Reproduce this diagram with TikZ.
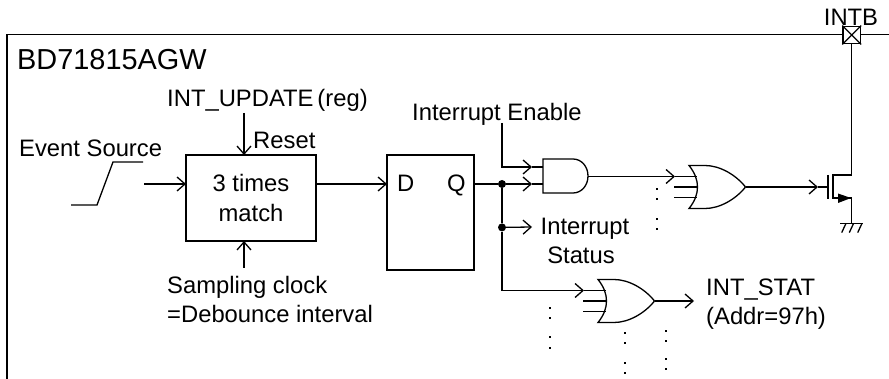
\documentclass[tikz,border=0pt]{standalone}
\usepackage{fontspec}
\setmainfont{Liberation Sans}
\usetikzlibrary{arrows.meta, positioning}
\tikzstyle{block} = [rectangle, draw, line width=1.3pt, outer sep=0pt, align=center, font=\fontsize{23.8}{29.5}\selectfont]
\tikzstyle{lbl} = [inner sep=0pt, align=left, font=\fontsize{23.8}{29.5}\selectfont]
\tikzstyle{wire} = [line width=1.3pt]
\tikzstyle{arrow} = [line width=1.3pt, -{Straight Barb[length=8pt, width=14pt, line width=1.3pt]}]
\tikzstyle{junction} = [circle, fill=black, inner sep=0pt, minimum size=8pt]
\tikzstyle{dotmark} = [rectangle, fill=black, inner sep=0pt, minimum size=2.4pt]
\tikzset{
  andgate/.pic={
    \draw[wire] (0,-17) -- (30,-17) .. controls (38.5,-17) and (45,-9.5) .. (45,0)
      .. controls (45,9.5) and (38.5,17) .. (30,17) -- (0,17) -- cycle;
    \coordinate (-tip1) at (-11,-9);
    \coordinate (-in1) at (0,-9);
    \coordinate (-tip2) at (-11,8);
    \coordinate (-in2) at (0,8);
    \coordinate (-out) at (45,0.5);
  },
  orgate/.pic={
    \draw[wire] (0,-21.5) .. controls (6,-14) and (8.5,-7) .. (8.5,0)
      .. controls (8.5,7) and (6,14) .. (0,21.5) -- (16,21.5)
      .. controls (31,21.5) and (47,12) .. (56.5,0)
      .. controls (47,-12) and (31,-21.5) .. (16,-21.5) -- cycle;
    \draw[wire] (-15,0) -- (8.5,0);
    \draw[wire] (-15,10.5) -- (7.5,10.5);
    \coordinate (-tip) at (-14,-10.5);
    \coordinate (-in) at (7.5,-10.5);
    \coordinate (-out) at (56.5,0);
  }
}

\begin{document}
\begin{tikzpicture}[x=1pt, y=-1pt]
    \useasboundingbox (0,0) rectangle (889,379);
    % chip outline
    \draw[line width=1.5pt] (7,379) |- (889,34.5);
    \node[lbl, anchor=base west, font=\fontsize{28.9}{34}\selectfont] (chip) at (17,70) {BD71815AGW};

    % blocks
    \node[block, minimum width=130pt, minimum height=86pt] (match) at (251,198) {3 times\\match};
    \node[block, minimum width=87pt, minimum height=115pt, right=71pt of match.north east, anchor=north west] (ff) {};
    \node[lbl, anchor=base west] (dpin) at (397,192) {D};
    \node[lbl, anchor=base west] (qpin) at (447,192) {Q};

    % inputs
    \coordinate (evin) at (144,184);
    \coordinate (updin) at (244,113);
    \coordinate (clkin) at (244,268);
    \node[lbl, anchor=base west] (evsrc) at (19,157) {Event Source};
    \node[lbl, anchor=base west] (upd) at (167,107) {INT\_UPDATE\,(reg)};
    \node[lbl, anchor=base west] (rst) at (253,149) {Reset};
    \node[lbl, anchor=base west] (clk) at (167,323) {Sampling clock\\=Debounce interval};
    \draw[wire] (71,205) -- (97,205) -- (113,162) -- (143,162);
    \draw[arrow] (evin) -- (evin -| match.west);
    \draw[arrow] (updin) -- (updin |- match.north);
    \draw[arrow] (clkin) -- (clkin |- match.south);
    \draw[arrow] (match.east |- evin) -- (ff.west |- evin);

    % gates
    \pic (anda) at (543,176) {andgate};
    \pic (orb) at (689,187) {orgate};
    \pic (orc) at (598,301) {orgate};

    % interrupt paths
    \node[junction] (jq) at (502,184) {};
    \node[junction, below=35pt of jq] (jst) {};
    \coordinate (enin) at (502,123);
    \coordinate (stin) at (532,227);
    \coordinate (statout) at (694,301);
    \node[lbl, anchor=base west] (en) at (412,121) {Interrupt Enable};
    \node[lbl, anchor=base, align=center] (st) at (585,264) {Interrupt\\Status\hspace*{8pt}};
    \node[lbl, anchor=base west] (stat) at (706,325) {INT\_STAT\\(Addr=97h)};
    \draw[wire] (ff.east |- jq) -- (jq);
    \draw[arrow] (jq) -- (anda-tip2);
    \draw[wire] (anda-tip2) -- (anda-in2);
    \draw[arrow] (enin) |- (anda-tip1);
    \draw[wire] (anda-tip1) -- (anda-in1);
    \draw[wire] (jq) -- (jst);
    \draw[arrow] (jst) -- (stin);
    \draw[arrow] (jst) |- (orc-tip);
    \draw[wire] (orc-tip) -- (orc-in);
    \draw[arrow] (orc-out) -- (statout);
    \draw[arrow] (anda-out) -- (orb-tip);
    \draw[wire] (orb-tip) -- (orb-in);

    % output stage
    \node[rectangle, draw, fill=white, line width=1.3pt, minimum size=17.5pt, inner sep=0pt] (pad) at (851.7,35) {};
    \draw[wire] (pad.north west) -- (pad.south east);
    \draw[wire] (pad.north east) -- (pad.south west);
    \node[lbl, anchor=base] (intb) at (851,26) {INTB};
    \coordinate (gt) at (828,187);
    \coordinate (gttip) at (818,187);
    \coordinate (src) at (851.7,198);
    \coordinate (gnd) at (851.7,223.5);
    \draw[arrow] (orb-out) -- (gttip);
    \draw[wire] (gttip) -- (gt);
    \draw[wire] (828,175) -- (828,199);
    \draw[wire] (833,199) -- (833,175) -| (pad.south);
    \draw[wire] (833,198) -- (src) -- (gnd);
    \fill (838,193.5) -- (851,198) -- (838,203) -- cycle;
    \draw[wire] (840,223.5) -- (863,223.5);
    \foreach \x in {845.7, 853.3, 861.7}
      \draw[wire] (\x,224) -- (\x-4,232.6);

    % ellipsis dots
    \foreach \x/\y in {657/189, 657/199, 657/219, 657/229,
                       550/308, 550/318, 550/337, 550/348,
                       625/333, 625/343, 625/363, 625/373,
                       666/331, 666/341, 666/359, 666/369}
      \node[dotmark] (dot-\x-\y) at (\x,\y) {};
\end{tikzpicture}
\end{document}
